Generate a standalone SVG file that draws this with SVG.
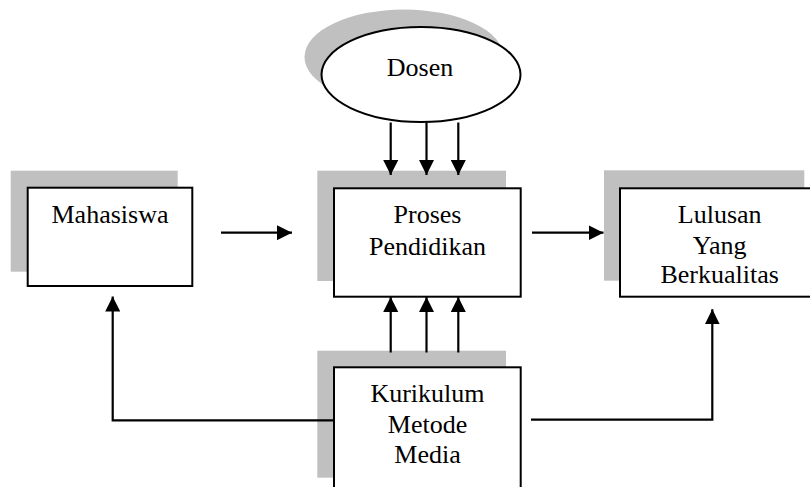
<svg xmlns="http://www.w3.org/2000/svg" width="810" height="487" viewBox="0 0 810 487">
<style>
.shadow{fill:#c0c0c0;stroke:none}
.box{fill:#ffffff;stroke:#000000;stroke-width:2}
.lbl{font-family:'Liberation Serif','Times New Roman',serif;font-size:26px;fill:#000000;text-anchor:middle}
.conn{fill:none;stroke:#000000;stroke-width:2.2}
</style>
<defs>
<marker id="ah" viewBox="0 0 15 15" markerWidth="15" markerHeight="15" markerUnits="userSpaceOnUse" refX="15" refY="7.5" orient="auto">
<path d="M0,0 L15,7.5 L0,15 z" fill="#000000"/>
</marker>
</defs>
<rect width="810" height="487" fill="#ffffff"/>
<g id="dosen">
<ellipse class="shadow" cx="404" cy="57" rx="99.5" ry="47.5"/>
<ellipse class="box" cx="421" cy="74.5" rx="99.5" ry="47.5"/>
<text class="lbl" x="420" y="76">Dosen</text>
</g>
<g id="mahasiswa">
<rect class="shadow" x="10.7" y="170.7" width="167" height="101"/>
<rect class="box" x="27.7" y="187.7" width="164.6" height="98.3"/>
<text class="lbl" x="110" y="223">Mahasiswa</text>
</g>
<g id="proses">
<rect class="shadow" x="317.3" y="170.7" width="188.7" height="110.3"/>
<rect class="box" x="334" y="188.3" width="186.7" height="108.4"/>
<text class="lbl" x="427.5" y="223.3">Proses</text>
<text class="lbl" x="427.5" y="255">Pendidikan</text>
</g>
<g id="lulusan">
<rect class="shadow" x="604" y="170.3" width="200.3" height="110.4"/>
<rect class="box" x="620" y="188.3" width="200" height="108.4"/>
<text class="lbl" x="719.7" y="223.3">Lulusan</text>
<text class="lbl" x="719.7" y="254.3">Yang</text>
<text class="lbl" x="719.7" y="283.3">Berkualitas</text>
</g>
<g id="kurikulum">
<rect class="shadow" x="317.3" y="350.7" width="188.7" height="127"/>
<rect class="box" x="334" y="367.3" width="186.7" height="140"/>
<text class="lbl" x="427.5" y="402.3">Kurikulum</text>
<text class="lbl" x="427.5" y="432.7">Metode</text>
<text class="lbl" x="427.5" y="462.7">Media</text>
</g>
<g id="connectors">
<line class="conn" x1="221" y1="232.7" x2="292" y2="232.7" marker-end="url(#ah)"/>
<line class="conn" x1="532" y1="232.7" x2="603.5" y2="232.7" marker-end="url(#ah)"/>
<line class="conn" x1="390.7" y1="122.5" x2="390.7" y2="175" marker-end="url(#ah)"/>
<line class="conn" x1="426.5" y1="122.5" x2="426.5" y2="175" marker-end="url(#ah)"/>
<line class="conn" x1="458.3" y1="122.5" x2="458.3" y2="175" marker-end="url(#ah)"/>
<line class="conn" x1="390.7" y1="352.5" x2="390.7" y2="297" marker-end="url(#ah)"/>
<line class="conn" x1="426.5" y1="352.5" x2="426.5" y2="297" marker-end="url(#ah)"/>
<line class="conn" x1="458.3" y1="352.5" x2="458.3" y2="297" marker-end="url(#ah)"/>
<polyline class="conn" points="334,420.3 112.7,420.3 112.7,296.5" marker-end="url(#ah)"/>
<polyline class="conn" points="531,419.7 712.3,419.7 712.3,309.3" marker-end="url(#ah)"/>
</g>
</svg>
